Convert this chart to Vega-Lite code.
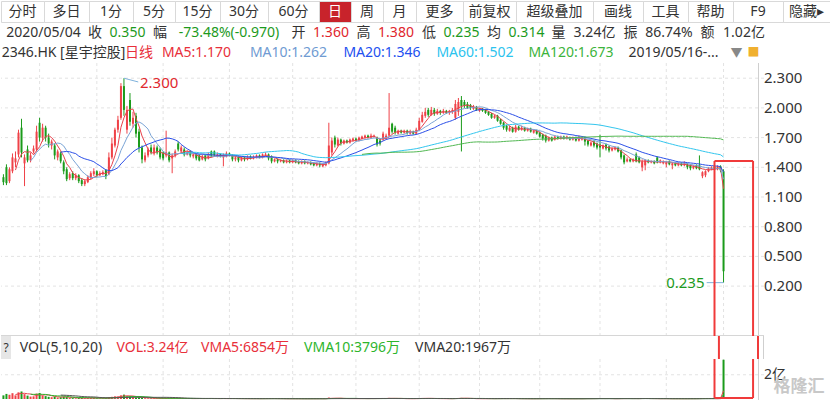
{
"$schema":"https://vega.github.io/schema/vega-lite/v6.json",
"padding":0,"background":"white","spacing":0,
"config":{"font":"Noto Sans, Noto Sans CJK SC","view":{"stroke":null},"concat":{"spacing":0},"text":{"fontSize":14,"color":"#333333"}},
"datasets":{
"months":[{"i":12},{"i":31},{"i":53},{"i":75},{"i":96},{"i":117},{"i":138},{"i":158},{"i":178},{"i":198},{"i":220},{"i":239}],
"yt":[{"p":0.2},{"p":0.5},{"p":0.8},{"p":1.1},{"p":1.4},{"p":1.7},{"p":2.0},{"p":2.3}],
"vt":[{"v":2}],
"one":[{"n":1}],
"boxTop":[{"i":236.0,"i2":236.0,"p":1.464,"p2":-0.304},{"i":248.8,"i2":248.8,"p":1.464,"p2":-0.304},{"i":236.0,"i2":248.8,"p":1.464,"p2":1.464}],
"boxMid":[{"i":236.0},{"i":248.8}],
"boxBottom":[{"i":236.0,"i2":236.0,"v":3.3,"v2":0.082},{"i":248.8,"i2":248.8,"v":3.3,"v2":0.082},{"i":236.0,"i2":248.8,"v":0.082,"v2":0.082}],
"k":[
{"i":0,"o":1.30,"h":1.33,"l":1.22,"c":1.25,"v":0.30},
{"i":1,"o":1.40,"h":1.43,"l":1.22,"c":1.24,"v":0.42},
{"i":2,"o":1.26,"h":1.40,"l":1.24,"c":1.38,"v":0.35},
{"i":3,"o":1.36,"h":1.54,"l":1.34,"c":1.50,"v":0.48},
{"i":4,"o":1.45,"h":1.56,"l":1.40,"c":1.49,"v":0.30},
{"i":5,"o":1.53,"h":1.78,"l":1.50,"c":1.75,"v":0.55},
{"i":6,"o":1.80,"h":1.89,"l":1.50,"c":1.55,"v":0.62},
{"i":7,"o":1.44,"h":1.53,"l":1.21,"c":1.50,"v":0.40},
{"i":8,"o":1.58,"h":1.62,"l":1.45,"c":1.47,"v":0.28},
{"i":9,"o":1.47,"h":1.55,"l":1.45,"c":1.52,"v":0.20},
{"i":10,"o":1.56,"h":1.62,"l":1.54,"c":1.59,"v":0.22},
{"i":11,"o":1.58,"h":1.82,"l":1.56,"c":1.76,"v":0.45},
{"i":12,"o":1.85,"h":1.90,"l":1.66,"c":1.70,"v":0.50},
{"i":13,"o":1.70,"h":1.84,"l":1.66,"c":1.80,"v":0.30},
{"i":14,"o":1.80,"h":1.82,"l":1.66,"c":1.70,"v":0.24},
{"i":15,"o":1.70,"h":1.74,"l":1.60,"c":1.64,"v":0.18},
{"i":16,"o":1.62,"h":1.68,"l":1.58,"c":1.66,"v":0.15},
{"i":17,"o":1.62,"h":1.64,"l":1.48,"c":1.52,"v":0.20},
{"i":18,"o":1.50,"h":1.58,"l":1.47,"c":1.56,"v":0.12},
{"i":19,"o":1.54,"h":1.56,"l":1.44,"c":1.46,"v":0.15},
{"i":20,"o":1.45,"h":1.47,"l":1.33,"c":1.36,"v":0.20},
{"i":21,"o":1.38,"h":1.40,"l":1.26,"c":1.28,"v":0.16},
{"i":22,"o":1.29,"h":1.35,"l":1.27,"c":1.33,"v":0.08},
{"i":23,"o":1.34,"h":1.36,"l":1.27,"c":1.29,"v":0.07},
{"i":24,"o":1.29,"h":1.34,"l":1.27,"c":1.32,"v":0.06},
{"i":25,"o":1.32,"h":1.33,"l":1.24,"c":1.26,"v":0.09},
{"i":26,"o":1.27,"h":1.29,"l":1.21,"c":1.23,"v":0.10},
{"i":27,"o":1.23,"h":1.28,"l":1.21,"c":1.26,"v":0.07},
{"i":28,"o":1.25,"h":1.32,"l":1.24,"c":1.30,"v":0.08},
{"i":29,"o":1.29,"h":1.36,"l":1.28,"c":1.34,"v":0.09},
{"i":30,"o":1.33,"h":1.39,"l":1.31,"c":1.36,"v":0.10},
{"i":31,"o":1.36,"h":1.37,"l":1.30,"c":1.32,"v":0.06},
{"i":32,"o":1.32,"h":1.36,"l":1.31,"c":1.34,"v":0.05},
{"i":33,"o":1.33,"h":1.37,"l":1.32,"c":1.35,"v":0.05},
{"i":34,"o":1.37,"h":1.38,"l":1.28,"c":1.31,"v":0.06},
{"i":35,"o":1.33,"h":1.55,"l":1.32,"c":1.50,"v":0.14},
{"i":36,"o":1.50,"h":1.70,"l":1.48,"c":1.64,"v":0.18},
{"i":37,"o":1.62,"h":1.80,"l":1.60,"c":1.78,"v":0.22},
{"i":38,"o":1.78,"h":1.92,"l":1.75,"c":1.88,"v":0.20},
{"i":39,"o":1.90,"h":2.25,"l":1.88,"c":2.22,"v":0.30},
{"i":40,"o":2.22,"h":2.30,"l":1.92,"c":1.98,"v":0.36},
{"i":41,"o":1.78,"h":2.02,"l":1.74,"c":1.98,"v":0.22},
{"i":42,"o":2.08,"h":2.15,"l":1.82,"c":1.86,"v":0.20},
{"i":43,"o":1.84,"h":1.96,"l":1.80,"c":1.90,"v":0.14},
{"i":44,"o":1.92,"h":1.95,"l":1.70,"c":1.74,"v":0.12},
{"i":45,"o":1.76,"h":1.79,"l":1.55,"c":1.60,"v":0.13},
{"i":46,"o":1.60,"h":1.62,"l":1.44,"c":1.48,"v":0.10},
{"i":47,"o":1.47,"h":1.55,"l":1.45,"c":1.52,"v":0.06},
{"i":48,"o":1.52,"h":1.60,"l":1.50,"c":1.58,"v":0.05},
{"i":49,"o":1.60,"h":1.63,"l":1.53,"c":1.55,"v":0.05},
{"i":50,"o":1.54,"h":1.63,"l":1.52,"c":1.60,"v":0.06},
{"i":51,"o":1.60,"h":1.62,"l":1.53,"c":1.55,"v":0.04},
{"i":52,"o":1.58,"h":1.60,"l":1.48,"c":1.50,"v":0.05},
{"i":53,"o":1.55,"h":1.56,"l":1.47,"c":1.49,"v":0.04},
{"i":54,"o":1.52,"h":1.77,"l":1.50,"c":1.55,"v":0.08},
{"i":55,"o":1.55,"h":1.56,"l":1.45,"c":1.47,"v":0.05},
{"i":56,"o":1.49,"h":1.54,"l":1.34,"c":1.52,"v":0.07},
{"i":57,"o":1.52,"h":1.58,"l":1.50,"c":1.56,"v":0.04},
{"i":58,"o":1.64,"h":1.66,"l":1.56,"c":1.58,"v":0.05},
{"i":59,"o":1.56,"h":1.62,"l":1.54,"c":1.60,"v":0.04},
{"i":60,"o":1.58,"h":1.60,"l":1.51,"c":1.53,"v":0.04},
{"i":61,"o":1.53,"h":1.57,"l":1.52,"c":1.55,"v":0.03},
{"i":62,"o":1.56,"h":1.57,"l":1.50,"c":1.52,"v":0.04},
{"i":63,"o":1.51,"h":1.55,"l":1.49,"c":1.53,"v":0.03},
{"i":64,"o":1.53,"h":1.54,"l":1.47,"c":1.49,"v":0.04},
{"i":65,"o":1.52,"h":1.53,"l":1.46,"c":1.47,"v":0.05},
{"i":66,"o":1.48,"h":1.53,"l":1.47,"c":1.51,"v":0.03},
{"i":67,"o":1.52,"h":1.53,"l":1.46,"c":1.48,"v":0.04},
{"i":68,"o":1.49,"h":1.55,"l":1.48,"c":1.53,"v":0.04},
{"i":69,"o":1.56,"h":1.57,"l":1.50,"c":1.51,"v":0.05},
{"i":70,"o":1.56,"h":1.57,"l":1.51,"c":1.52,"v":0.03},
{"i":71,"o":1.51,"h":1.55,"l":1.50,"c":1.53,"v":0.03},
{"i":72,"o":1.53,"h":1.54,"l":1.50,"c":1.51,"v":0.03},
{"i":73,"o":1.50,"h":1.54,"l":1.41,"c":1.52,"v":0.05},
{"i":74,"o":1.51,"h":1.56,"l":1.50,"c":1.54,"v":0.04},
{"i":75,"o":1.54,"h":1.55,"l":1.51,"c":1.52,"v":0.03},
{"i":76,"o":1.52,"h":1.53,"l":1.46,"c":1.48,"v":0.04},
{"i":77,"o":1.48,"h":1.52,"l":1.46,"c":1.50,"v":0.03},
{"i":78,"o":1.51,"h":1.52,"l":1.45,"c":1.47,"v":0.03},
{"i":79,"o":1.47,"h":1.51,"l":1.46,"c":1.50,"v":0.03},
{"i":80,"o":1.50,"h":1.51,"l":1.46,"c":1.48,"v":0.02},
{"i":81,"o":1.48,"h":1.52,"l":1.47,"c":1.50,"v":0.03},
{"i":82,"o":1.51,"h":1.52,"l":1.48,"c":1.49,"v":0.02},
{"i":83,"o":1.49,"h":1.52,"l":1.48,"c":1.51,"v":0.03},
{"i":84,"o":1.50,"h":1.53,"l":1.49,"c":1.52,"v":0.03},
{"i":85,"o":1.52,"h":1.53,"l":1.49,"c":1.50,"v":0.02},
{"i":86,"o":1.50,"h":1.54,"l":1.49,"c":1.53,"v":0.04},
{"i":87,"o":1.52,"h":1.55,"l":1.51,"c":1.53,"v":0.03},
{"i":88,"o":1.53,"h":1.54,"l":1.47,"c":1.49,"v":0.04},
{"i":89,"o":1.51,"h":1.52,"l":1.44,"c":1.46,"v":0.04},
{"i":90,"o":1.46,"h":1.49,"l":1.45,"c":1.48,"v":0.03},
{"i":91,"o":1.48,"h":1.49,"l":1.44,"c":1.46,"v":0.02},
{"i":92,"o":1.46,"h":1.48,"l":1.45,"c":1.47,"v":0.02},
{"i":93,"o":1.47,"h":1.48,"l":1.44,"c":1.45,"v":0.03},
{"i":94,"o":1.45,"h":1.48,"l":1.44,"c":1.46,"v":0.02},
{"i":95,"o":1.47,"h":1.48,"l":1.44,"c":1.45,"v":0.02},
{"i":96,"o":1.45,"h":1.48,"l":1.44,"c":1.47,"v":0.03},
{"i":97,"o":1.47,"h":1.48,"l":1.44,"c":1.45,"v":0.02},
{"i":98,"o":1.46,"h":1.47,"l":1.43,"c":1.44,"v":0.03},
{"i":99,"o":1.44,"h":1.47,"l":1.43,"c":1.46,"v":0.02},
{"i":100,"o":1.46,"h":1.47,"l":1.43,"c":1.44,"v":0.02},
{"i":101,"o":1.44,"h":1.46,"l":1.43,"c":1.45,"v":0.02},
{"i":102,"o":1.45,"h":1.46,"l":1.42,"c":1.43,"v":0.03},
{"i":103,"o":1.44,"h":1.45,"l":1.41,"c":1.42,"v":0.03},
{"i":104,"o":1.42,"h":1.45,"l":1.41,"c":1.44,"v":0.02},
{"i":105,"o":1.44,"h":1.45,"l":1.40,"c":1.42,"v":0.03},
{"i":106,"o":1.41,"h":1.44,"l":1.40,"c":1.43,"v":0.02},
{"i":107,"o":1.42,"h":1.46,"l":1.41,"c":1.44,"v":0.03},
{"i":108,"o":1.44,"h":1.85,"l":1.43,"c":1.62,"v":0.12},
{"i":109,"o":1.55,"h":1.70,"l":1.52,"c":1.67,"v":0.08},
{"i":110,"o":1.70,"h":1.72,"l":1.60,"c":1.63,"v":0.06},
{"i":111,"o":1.62,"h":1.70,"l":1.61,"c":1.68,"v":0.04},
{"i":112,"o":1.68,"h":1.69,"l":1.62,"c":1.64,"v":0.04},
{"i":113,"o":1.64,"h":1.68,"l":1.63,"c":1.67,"v":0.03},
{"i":114,"o":1.67,"h":1.68,"l":1.64,"c":1.65,"v":0.03},
{"i":115,"o":1.65,"h":1.69,"l":1.64,"c":1.68,"v":0.03},
{"i":116,"o":1.67,"h":1.70,"l":1.66,"c":1.69,"v":0.04},
{"i":117,"o":1.69,"h":1.70,"l":1.66,"c":1.67,"v":0.03},
{"i":118,"o":1.67,"h":1.71,"l":1.66,"c":1.70,"v":0.03},
{"i":119,"o":1.69,"h":1.72,"l":1.68,"c":1.71,"v":0.04},
{"i":120,"o":1.70,"h":1.73,"l":1.69,"c":1.72,"v":0.03},
{"i":121,"o":1.72,"h":1.73,"l":1.69,"c":1.70,"v":0.03},
{"i":122,"o":1.70,"h":1.74,"l":1.69,"c":1.72,"v":0.04},
{"i":123,"o":1.71,"h":1.73,"l":1.70,"c":1.72,"v":0.03},
{"i":124,"o":1.70,"h":1.71,"l":1.61,"c":1.63,"v":0.05},
{"i":125,"o":1.67,"h":1.69,"l":1.62,"c":1.64,"v":0.04},
{"i":126,"o":1.68,"h":1.76,"l":1.67,"c":1.74,"v":0.05},
{"i":127,"o":1.70,"h":1.74,"l":1.69,"c":1.72,"v":0.03},
{"i":128,"o":1.72,"h":2.15,"l":1.71,"c":1.80,"v":0.09},
{"i":129,"o":1.84,"h":1.85,"l":1.74,"c":1.76,"v":0.06},
{"i":130,"o":1.80,"h":1.82,"l":1.73,"c":1.75,"v":0.04},
{"i":131,"o":1.74,"h":1.78,"l":1.73,"c":1.77,"v":0.03},
{"i":132,"o":1.77,"h":1.78,"l":1.74,"c":1.75,"v":0.03},
{"i":133,"o":1.75,"h":1.78,"l":1.74,"c":1.77,"v":0.03},
{"i":134,"o":1.77,"h":1.78,"l":1.73,"c":1.75,"v":0.02},
{"i":135,"o":1.74,"h":1.78,"l":1.73,"c":1.76,"v":0.03},
{"i":136,"o":1.76,"h":1.77,"l":1.73,"c":1.74,"v":0.03},
{"i":137,"o":1.74,"h":1.80,"l":1.73,"c":1.78,"v":0.04},
{"i":138,"o":1.78,"h":1.90,"l":1.77,"c":1.87,"v":0.06},
{"i":139,"o":1.86,"h":1.96,"l":1.85,"c":1.93,"v":0.07},
{"i":140,"o":1.92,"h":2.00,"l":1.90,"c":1.96,"v":0.05},
{"i":141,"o":1.98,"h":2.00,"l":1.91,"c":1.93,"v":0.04},
{"i":142,"o":1.93,"h":2.01,"l":1.92,"c":1.98,"v":0.04},
{"i":143,"o":1.98,"h":2.00,"l":1.92,"c":1.94,"v":0.03},
{"i":144,"o":1.94,"h":1.99,"l":1.93,"c":1.97,"v":0.03},
{"i":145,"o":1.97,"h":1.98,"l":1.93,"c":1.95,"v":0.03},
{"i":146,"o":1.95,"h":1.99,"l":1.94,"c":1.97,"v":0.03},
{"i":147,"o":1.97,"h":1.98,"l":1.94,"c":1.95,"v":0.02},
{"i":148,"o":1.95,"h":1.98,"l":1.93,"c":1.97,"v":0.03},
{"i":149,"o":1.96,"h":2.00,"l":1.94,"c":1.98,"v":0.03},
{"i":150,"o":1.90,"h":2.08,"l":1.88,"c":2.04,"v":0.07},
{"i":151,"o":1.96,"h":2.10,"l":1.92,"c":2.06,"v":0.08},
{"i":152,"o":2.08,"h":2.12,"l":1.56,"c":2.02,"v":0.09},
{"i":153,"o":2.06,"h":2.08,"l":2.00,"c":2.02,"v":0.04},
{"i":154,"o":2.04,"h":2.06,"l":1.99,"c":2.00,"v":0.03},
{"i":155,"o":2.03,"h":2.04,"l":1.98,"c":2.00,"v":0.03},
{"i":156,"o":1.99,"h":2.03,"l":1.98,"c":2.01,"v":0.03},
{"i":157,"o":2.01,"h":2.02,"l":1.97,"c":1.98,"v":0.02},
{"i":158,"o":1.97,"h":2.00,"l":1.96,"c":1.99,"v":0.03},
{"i":159,"o":1.99,"h":2.00,"l":1.96,"c":1.97,"v":0.02},
{"i":160,"o":1.98,"h":1.99,"l":1.94,"c":1.95,"v":0.03},
{"i":161,"o":1.96,"h":1.97,"l":1.92,"c":1.93,"v":0.03},
{"i":162,"o":1.94,"h":1.95,"l":1.89,"c":1.90,"v":0.04},
{"i":163,"o":1.90,"h":1.93,"l":1.89,"c":1.92,"v":0.02},
{"i":164,"o":1.92,"h":1.93,"l":1.86,"c":1.87,"v":0.03},
{"i":165,"o":1.88,"h":1.89,"l":1.83,"c":1.84,"v":0.04},
{"i":166,"o":1.85,"h":1.86,"l":1.78,"c":1.80,"v":0.04},
{"i":167,"o":1.82,"h":1.83,"l":1.76,"c":1.78,"v":0.03},
{"i":168,"o":1.77,"h":1.82,"l":1.76,"c":1.80,"v":0.03},
{"i":169,"o":1.80,"h":1.81,"l":1.75,"c":1.76,"v":0.03},
{"i":170,"o":1.76,"h":1.83,"l":1.75,"c":1.81,"v":0.04},
{"i":171,"o":1.81,"h":1.82,"l":1.77,"c":1.78,"v":0.02},
{"i":172,"o":1.78,"h":1.82,"l":1.77,"c":1.80,"v":0.02},
{"i":173,"o":1.80,"h":1.81,"l":1.76,"c":1.77,"v":0.02},
{"i":174,"o":1.77,"h":1.80,"l":1.76,"c":1.79,"v":0.02},
{"i":175,"o":1.79,"h":1.80,"l":1.75,"c":1.76,"v":0.03},
{"i":176,"o":1.75,"h":1.78,"l":1.74,"c":1.77,"v":0.02},
{"i":177,"o":1.77,"h":1.78,"l":1.73,"c":1.74,"v":0.03},
{"i":178,"o":1.75,"h":1.76,"l":1.70,"c":1.71,"v":0.03},
{"i":179,"o":1.73,"h":1.74,"l":1.67,"c":1.69,"v":0.04},
{"i":180,"o":1.72,"h":1.73,"l":1.65,"c":1.67,"v":0.04},
{"i":181,"o":1.67,"h":1.71,"l":1.66,"c":1.70,"v":0.03},
{"i":182,"o":1.70,"h":1.71,"l":1.66,"c":1.67,"v":0.02},
{"i":183,"o":1.68,"h":1.72,"l":1.67,"c":1.71,"v":0.03},
{"i":184,"o":1.71,"h":1.72,"l":1.68,"c":1.69,"v":0.02},
{"i":185,"o":1.69,"h":1.72,"l":1.68,"c":1.71,"v":0.02},
{"i":186,"o":1.71,"h":1.72,"l":1.68,"c":1.69,"v":0.02},
{"i":187,"o":1.69,"h":1.72,"l":1.68,"c":1.71,"v":0.03},
{"i":188,"o":1.70,"h":1.71,"l":1.67,"c":1.68,"v":0.02},
{"i":189,"o":1.68,"h":1.71,"l":1.67,"c":1.70,"v":0.02},
{"i":190,"o":1.70,"h":1.71,"l":1.66,"c":1.67,"v":0.03},
{"i":191,"o":1.67,"h":1.72,"l":1.66,"c":1.70,"v":0.03},
{"i":192,"o":1.68,"h":1.71,"l":1.67,"c":1.70,"v":0.02},
{"i":193,"o":1.70,"h":1.71,"l":1.62,"c":1.66,"v":0.04},
{"i":194,"o":1.67,"h":1.68,"l":1.61,"c":1.63,"v":0.04},
{"i":195,"o":1.62,"h":1.66,"l":1.61,"c":1.65,"v":0.03},
{"i":196,"o":1.66,"h":1.67,"l":1.60,"c":1.62,"v":0.03},
{"i":197,"o":1.64,"h":1.65,"l":1.58,"c":1.60,"v":0.04},
{"i":198,"o":1.63,"h":1.73,"l":1.50,"c":1.60,"v":0.06},
{"i":199,"o":1.59,"h":1.63,"l":1.58,"c":1.62,"v":0.03},
{"i":200,"o":1.63,"h":1.64,"l":1.57,"c":1.59,"v":0.03},
{"i":201,"o":1.61,"h":1.62,"l":1.55,"c":1.57,"v":0.04},
{"i":202,"o":1.57,"h":1.60,"l":1.56,"c":1.59,"v":0.02},
{"i":203,"o":1.58,"h":1.61,"l":1.57,"c":1.60,"v":0.02},
{"i":204,"o":1.60,"h":1.61,"l":1.55,"c":1.56,"v":0.03},
{"i":205,"o":1.57,"h":1.58,"l":1.48,"c":1.50,"v":0.05},
{"i":206,"o":1.52,"h":1.53,"l":1.43,"c":1.45,"v":0.05},
{"i":207,"o":1.46,"h":1.50,"l":1.45,"c":1.48,"v":0.03},
{"i":208,"o":1.48,"h":1.49,"l":1.45,"c":1.46,"v":0.03},
{"i":209,"o":1.46,"h":1.49,"l":1.45,"c":1.48,"v":0.02},
{"i":210,"o":1.53,"h":1.55,"l":1.45,"c":1.46,"v":0.04},
{"i":211,"o":1.50,"h":1.51,"l":1.44,"c":1.45,"v":0.04},
{"i":212,"o":1.40,"h":1.48,"l":1.36,"c":1.46,"v":0.06},
{"i":213,"o":1.42,"h":1.48,"l":1.37,"c":1.47,"v":0.04},
{"i":214,"o":1.47,"h":1.48,"l":1.44,"c":1.45,"v":0.02},
{"i":215,"o":1.45,"h":1.47,"l":1.44,"c":1.46,"v":0.02},
{"i":216,"o":1.46,"h":1.47,"l":1.43,"c":1.44,"v":0.03},
{"i":217,"o":1.50,"h":1.51,"l":1.44,"c":1.45,"v":0.04},
{"i":218,"o":1.45,"h":1.48,"l":1.44,"c":1.47,"v":0.02},
{"i":219,"o":1.44,"h":1.47,"l":1.43,"c":1.46,"v":0.02},
{"i":220,"o":1.43,"h":1.46,"l":1.40,"c":1.45,"v":0.03},
{"i":221,"o":1.46,"h":1.47,"l":1.42,"c":1.43,"v":0.02},
{"i":222,"o":1.42,"h":1.45,"l":1.38,"c":1.44,"v":0.03},
{"i":223,"o":1.44,"h":1.45,"l":1.41,"c":1.42,"v":0.02},
{"i":224,"o":1.42,"h":1.45,"l":1.41,"c":1.44,"v":0.02},
{"i":225,"o":1.44,"h":1.45,"l":1.41,"c":1.42,"v":0.02},
{"i":226,"o":1.42,"h":1.46,"l":1.41,"c":1.44,"v":0.03},
{"i":227,"o":1.43,"h":1.44,"l":1.38,"c":1.40,"v":0.03},
{"i":228,"o":1.42,"h":1.43,"l":1.37,"c":1.39,"v":0.03},
{"i":229,"o":1.39,"h":1.42,"l":1.38,"c":1.41,"v":0.02},
{"i":230,"o":1.42,"h":1.43,"l":1.38,"c":1.39,"v":0.03},
{"i":231,"o":1.42,"h":1.52,"l":1.37,"c":1.38,"v":0.05},
{"i":232,"o":1.31,"h":1.36,"l":1.29,"c":1.35,"v":0.06},
{"i":233,"o":1.32,"h":1.37,"l":1.30,"c":1.36,"v":0.04},
{"i":234,"o":1.36,"h":1.40,"l":1.35,"c":1.39,"v":0.03},
{"i":235,"o":1.38,"h":1.41,"l":1.37,"c":1.40,"v":0.03},
{"i":236,"o":1.41,"h":1.43,"l":1.38,"c":1.39,"v":0.04},
{"i":237,"o":1.38,"h":1.42,"l":1.37,"c":1.41,"v":0.04},
{"i":238,"o":1.41,"h":1.42,"l":1.35,"c":1.37,"v":0.06},
{"i":239,"o":1.36,"h":1.38,"l":0.235,"c":0.35,"v":3.24}
]},
"vconcat":[
{"data":{"name":"one"},"spacing":0,"bounds":"flush","hconcat":[
{"width":43,"height":21,"view":{"stroke":"#d9d9d9"},"mark":"text","encoding":{"text":{"value":"分时"}}},
{"width":45,"height":21,"view":{"stroke":"#d9d9d9"},"mark":"text","encoding":{"text":{"value":"多日"}}},
{"width":44,"height":21,"view":{"stroke":"#d9d9d9"},"mark":"text","encoding":{"text":{"value":"1分"}}},
{"width":42,"height":21,"view":{"stroke":"#d9d9d9"},"mark":"text","encoding":{"text":{"value":"5分"}}},
{"width":45,"height":21,"view":{"stroke":"#d9d9d9"},"mark":"text","encoding":{"text":{"value":"15分"}}},
{"width":48,"height":21,"view":{"stroke":"#d9d9d9"},"mark":"text","encoding":{"text":{"value":"30分"}}},
{"width":51,"height":21,"view":{"stroke":"#d9d9d9"},"mark":"text","encoding":{"text":{"value":"60分"}}},
{"width":32,"height":21,"view":{"stroke":"#d9d9d9","fill":"#c8232b"},"mark":{"type":"text","color":"#ffffff"},"encoding":{"text":{"value":"日"}}},
{"width":32,"height":21,"view":{"stroke":"#d9d9d9"},"mark":"text","encoding":{"text":{"value":"周"}}},
{"width":33,"height":21,"view":{"stroke":"#d9d9d9"},"mark":"text","encoding":{"text":{"value":"月"}}},
{"width":47,"height":21,"view":{"stroke":"#d9d9d9"},"mark":"text","encoding":{"text":{"value":"更多"}}},
{"width":53,"height":21,"view":{"stroke":"#d9d9d9"},"mark":"text","encoding":{"text":{"value":"前复权"}}},
{"width":77,"height":21,"view":{"stroke":"#d9d9d9"},"mark":"text","encoding":{"text":{"value":"超级叠加"}}},
{"width":50,"height":21,"view":{"stroke":"#d9d9d9"},"mark":"text","encoding":{"text":{"value":"画线"}}},
{"width":45,"height":21,"view":{"stroke":"#d9d9d9"},"mark":"text","encoding":{"text":{"value":"工具"}}},
{"width":45,"height":21,"view":{"stroke":"#d9d9d9"},"mark":"text","encoding":{"text":{"value":"帮助"}}},
{"width":50,"height":21,"view":{"stroke":"#d9d9d9"},"mark":"text","encoding":{"text":{"value":"F9"}}},
{"width":47,"height":21,"view":{"stroke":"#d9d9d9"},"mark":"text","encoding":{"text":{"value":"隐藏▸"}}}
]},
{"data":{"name":"one"},"spacing":0,"bounds":"flush","hconcat":[
{"width":85,"height":20,"mark":"text","encoding":{"text":{"value":"2020/05/04"}}},
{"width":18,"height":20,"mark":"text","encoding":{"text":{"value":"收"}}},
{"width":47,"height":20,"mark":{"type":"text","color":"#1d9a1d"},"encoding":{"text":{"value":"0.350"}}},
{"width":18,"height":20,"mark":"text","encoding":{"text":{"value":"幅"}}},
{"width":120,"height":20,"mark":{"type":"text","color":"#1d9a1d"},"encoding":{"text":{"value":"-73.48%(-0.970)"}}},
{"width":19,"height":20,"mark":"text","encoding":{"text":{"value":"开"}}},
{"width":46,"height":20,"mark":{"type":"text","color":"#e0262d"},"encoding":{"text":{"value":"1.360"}}},
{"width":19,"height":20,"mark":"text","encoding":{"text":{"value":"高"}}},
{"width":46,"height":20,"mark":{"type":"text","color":"#e0262d"},"encoding":{"text":{"value":"1.380"}}},
{"width":20,"height":20,"mark":"text","encoding":{"text":{"value":"低"}}},
{"width":45,"height":20,"mark":{"type":"text","color":"#1d9a1d"},"encoding":{"text":{"value":"0.235"}}},
{"width":20,"height":20,"mark":"text","encoding":{"text":{"value":"均"}}},
{"width":45,"height":20,"mark":{"type":"text","color":"#1d9a1d"},"encoding":{"text":{"value":"0.314"}}},
{"width":19,"height":20,"mark":"text","encoding":{"text":{"value":"量"}}},
{"width":53,"height":20,"mark":"text","encoding":{"text":{"value":"3.24亿"}}},
{"width":19,"height":20,"mark":"text","encoding":{"text":{"value":"振"}}},
{"width":58,"height":20,"mark":"text","encoding":{"text":{"value":"86.74%"}}},
{"width":19,"height":20,"mark":"text","encoding":{"text":{"value":"额"}}},
{"width":54,"height":20,"mark":"text","encoding":{"text":{"value":"1.02亿"}}},
{"width":60,"height":20,"mark":"text","encoding":{"text":{"value":""}}}
]},
{"data":{"name":"one"},"spacing":0,"bounds":"flush","hconcat":[
{"width":125,"height":20,"mark":"text","encoding":{"text":{"value":"2346.HK [星宇控股]"}}},
{"width":26,"height":20,"mark":{"type":"text","color":"#e8303a"},"encoding":{"text":{"value":"日线"}}},
{"width":89,"height":20,"mark":{"type":"text","color":"#e8303a"},"encoding":{"text":{"value":"MA5:1.170"}}},
{"width":95,"height":20,"mark":{"type":"text","color":"#6f9bd2"},"encoding":{"text":{"value":"MA10:1.262"}}},
{"width":92,"height":20,"mark":{"type":"text","color":"#2250f0"},"encoding":{"text":{"value":"MA20:1.346"}}},
{"width":94,"height":20,"mark":{"type":"text","color":"#2cc3ee"},"encoding":{"text":{"value":"MA60:1.502"}}},
{"width":98,"height":20,"mark":{"type":"text","color":"#3cb43c"},"encoding":{"text":{"value":"MA120:1.673"}}},
{"width":107,"height":20,"mark":"text","encoding":{"text":{"value":"2019/05/16-..."}}},
{"width":19,"height":20,"mark":{"type":"text","color":"#888888","fontSize":12},"encoding":{"text":{"value":"▼"}}},
{"width":15,"height":20,"mark":{"type":"text","color":"#f0b030","fontSize":12},"encoding":{"text":{"value":"■"}}},
{"width":70,"height":20,"mark":"text","encoding":{"text":{"value":""}}}
]},
{"width":763,"height":273,"data":{"name":"k"},
"layer":[
{"data":{"name":"months"},"mark":{"type":"rule","color":"#e3e3e3","strokeDash":[3,3],"clip":true},"encoding":{"x":{"field":"i","type":"quantitative","scale":{"domain":[0.852,250.77],"nice":false,"zero":false},"axis":null}}},
{"data":{"name":"yt"},"mark":{"type":"rule","color":"#e3e3e3","strokeDash":[3,3],"clip":true},"encoding":{"y":{"field":"p","type":"quantitative","scale":{"domain":[-0.304,2.4535],"nice":false,"zero":false},"axis":null}}},
{"data":{"name":"one"},"mark":{"type":"rule","color":"#cfcfcf","clip":true},"encoding":{"x":{"datum":250.6,"type":"quantitative","scale":{"domain":[0.852,250.77],"nice":false,"zero":false},"axis":null}}},
{"data":{"name":"one"},"mark":{"type":"rule","color":"#d6d6d6","clip":true},"encoding":{"y":{"datum":-0.299,"type":"quantitative","scale":{"domain":[-0.304,2.4535],"nice":false,"zero":false},"axis":null}}},
{"data":{"name":"yt"},"mark":{"type":"text","align":"left","baseline":"middle","dx":5,"fontSize":15,"color":"#333333"},"encoding":{"x":{"datum":250.77,"type":"quantitative","scale":{"domain":[0.852,250.77],"nice":false,"zero":false},"axis":null},"y":{"field":"p","type":"quantitative","scale":{"domain":[-0.304,2.4535],"nice":false,"zero":false},"axis":null},"text":{"field":"p","type":"quantitative","format":".3f"}}},
{"mark":{"type":"rule","clip":true},"encoding":{"x":{"field":"i","type":"quantitative","scale":{"domain":[0.852,250.77],"nice":false,"zero":false},"axis":null},"y":{"field":"l","type":"quantitative","scale":{"domain":[-0.304,2.4535],"nice":false,"zero":false},"axis":null},"y2":{"field":"h"},"color":{"condition":{"test":"datum.c >= datum.o","value":"#ef4248"},"value":"#1b9b1b"}}},
{"mark":{"type":"bar","size":2,"clip":true},"encoding":{"x":{"field":"i","type":"quantitative","scale":{"domain":[0.852,250.77],"nice":false,"zero":false},"axis":null},"y":{"field":"o","type":"quantitative","scale":{"domain":[-0.304,2.4535],"nice":false,"zero":false},"axis":null},"y2":{"field":"c"},"color":{"condition":{"test":"datum.c >= datum.o","value":"#ef4248"},"value":"#1b9b1b"}}},
{"transform":[{"window":[{"op":"mean","field":"c","as":"m"},{"op":"count","as":"n"}],"frame":[-4,0],"sort":[{"field":"i"}]},{"filter":"datum.n >= 5"}],"mark":{"type":"line","color":"#e8424c","strokeWidth":1,"clip":true},"encoding":{"x":{"field":"i","type":"quantitative","scale":{"domain":[0.852,250.77],"nice":false,"zero":false},"axis":null},"y":{"field":"m","type":"quantitative","scale":{"domain":[-0.304,2.4535],"nice":false,"zero":false},"axis":null}}},
{"transform":[{"window":[{"op":"mean","field":"c","as":"m"},{"op":"count","as":"n"}],"frame":[-9,0],"sort":[{"field":"i"}]},{"filter":"datum.n >= 10"}],"mark":{"type":"line","color":"#7aa4d6","strokeWidth":1,"clip":true},"encoding":{"x":{"field":"i","type":"quantitative","scale":{"domain":[0.852,250.77],"nice":false,"zero":false},"axis":null},"y":{"field":"m","type":"quantitative","scale":{"domain":[-0.304,2.4535],"nice":false,"zero":false},"axis":null}}},
{"transform":[{"window":[{"op":"mean","field":"c","as":"m"},{"op":"count","as":"n"}],"frame":[-19,0],"sort":[{"field":"i"}]},{"filter":"datum.n >= 20"}],"mark":{"type":"line","color":"#2b4fe8","strokeWidth":1,"clip":true},"encoding":{"x":{"field":"i","type":"quantitative","scale":{"domain":[0.852,250.77],"nice":false,"zero":false},"axis":null},"y":{"field":"m","type":"quantitative","scale":{"domain":[-0.304,2.4535],"nice":false,"zero":false},"axis":null}}},
{"transform":[{"window":[{"op":"mean","field":"c","as":"m"},{"op":"count","as":"n"}],"frame":[-59,0],"sort":[{"field":"i"}]},{"filter":"datum.n >= 60"}],"mark":{"type":"line","color":"#33c6ee","strokeWidth":1,"clip":true},"encoding":{"x":{"field":"i","type":"quantitative","scale":{"domain":[0.852,250.77],"nice":false,"zero":false},"axis":null},"y":{"field":"m","type":"quantitative","scale":{"domain":[-0.304,2.4535],"nice":false,"zero":false},"axis":null}}},
{"transform":[{"window":[{"op":"mean","field":"c","as":"m"},{"op":"count","as":"n"}],"frame":[-119,0],"sort":[{"field":"i"}]},{"filter":"datum.n >= 120"}],"mark":{"type":"line","color":"#52b852","strokeWidth":1,"clip":true},"encoding":{"x":{"field":"i","type":"quantitative","scale":{"domain":[0.852,250.77],"nice":false,"zero":false},"axis":null},"y":{"field":"m","type":"quantitative","scale":{"domain":[-0.304,2.4535],"nice":false,"zero":false},"axis":null}}},
{"transform":[{"filter":"datum.i == 40"}],"mark":{"type":"rule","color":"#7fb2dc","strokeWidth":1},"encoding":{"x":{"field":"i","type":"quantitative","scale":{"domain":[0.852,250.77],"nice":false,"zero":false},"axis":null},"y":{"field":"h","type":"quantitative","scale":{"domain":[-0.304,2.4535],"nice":false,"zero":false},"axis":null},"x2":{"datum":44.74},"y2":{"datum":2.262}}},
{"transform":[{"filter":"datum.i == 40"}],"mark":{"type":"text","align":"left","baseline":"middle","dx":16,"dy":5,"color":"#e0282e","fontSize":15},"encoding":{"x":{"field":"i","type":"quantitative","scale":{"domain":[0.852,250.77],"nice":false,"zero":false},"axis":null},"y":{"field":"h","type":"quantitative","scale":{"domain":[-0.304,2.4535],"nice":false,"zero":false},"axis":null},"text":{"field":"h","type":"quantitative","format":".3f"}}},
{"transform":[{"filter":"datum.i == 239"}],"mark":{"type":"rule","color":"#7fb2dc","strokeWidth":1},"encoding":{"x":{"field":"i","type":"quantitative","scale":{"domain":[0.852,250.77],"nice":false,"zero":false},"axis":null},"y":{"field":"l","type":"quantitative","scale":{"domain":[-0.304,2.4535],"nice":false,"zero":false},"axis":null},"x2":{"datum":233.4}}},
{"transform":[{"filter":"datum.i == 239"}],"mark":{"type":"text","align":"right","baseline":"middle","dx":-19,"color":"#1d9a1d","fontSize":15},"encoding":{"x":{"field":"i","type":"quantitative","scale":{"domain":[0.852,250.77],"nice":false,"zero":false},"axis":null},"y":{"field":"l","type":"quantitative","scale":{"domain":[-0.304,2.4535],"nice":false,"zero":false},"axis":null},"text":{"field":"l","type":"quantitative","format":".3f"}}},
{"data":{"name":"boxTop"},"mark":{"type":"rule","color":"#f03a3a","strokeWidth":2,"clip":true},"encoding":{"x":{"field":"i","type":"quantitative","scale":{"domain":[0.852,250.77],"nice":false,"zero":false},"axis":null},"x2":{"field":"i2"},"y":{"field":"p","type":"quantitative","scale":{"domain":[-0.304,2.4535],"nice":false,"zero":false},"axis":null},"y2":{"field":"p2"}}}
]},
{"data":{"name":"one"},"spacing":0,"bounds":"flush","hconcat":[
{"width":10,"height":23,"view":{"fill":"#e6e6e6"},"mark":{"type":"text","fontSize":12},"encoding":{"text":{"value":"?"}}},
{"width":100,"height":23,"mark":"text","encoding":{"text":{"value":"VOL(5,10,20)"}}},
{"width":83,"height":23,"mark":{"type":"text","color":"#e8303a"},"encoding":{"text":{"value":"VOL:3.24亿"}}},
{"width":102,"height":23,"mark":{"type":"text","color":"#e8303a"},"encoding":{"text":{"value":"VMA5:6854万"}}},
{"width":112,"height":23,"mark":{"type":"text","color":"#2db52d"},"encoding":{"text":{"value":"VMA10:3796万"}}},
{"width":110,"height":23,"mark":"text","encoding":{"text":{"value":"VMA20:1967万"}}},
{"width":313,"height":23,"layer":[
{"data":{"name":"one"},"mark":{"type":"rule","color":"#cfcfcf","clip":true},"encoding":{"x":{"datum":250.6,"type":"quantitative","scale":{"domain":[170.19,272.71],"nice":false,"zero":false},"axis":null}}},
{"data":{"name":"boxMid"},"mark":{"type":"rule","color":"#f03a3a","strokeWidth":2,"clip":true},"encoding":{"x":{"field":"i","type":"quantitative","scale":{"domain":[170.19,272.71],"nice":false,"zero":false},"axis":null}}}
]}
]},
{"width":763,"height":42,"data":{"name":"k"},
"layer":[
{"data":{"name":"months"},"mark":{"type":"rule","color":"#e3e3e3","strokeDash":[3,3],"clip":true},"encoding":{"x":{"field":"i","type":"quantitative","scale":{"domain":[0.852,250.77],"nice":false,"zero":false},"axis":null}}},
{"data":{"name":"vt"},"mark":{"type":"rule","color":"#e3e3e3","strokeDash":[3,3],"clip":true},"encoding":{"y":{"field":"v","type":"quantitative","scale":{"domain":[-0.165,3.3],"nice":false,"zero":false},"axis":null}}},
{"data":{"name":"one"},"mark":{"type":"rule","color":"#cfcfcf","clip":true},"encoding":{"x":{"datum":250.6,"type":"quantitative","scale":{"domain":[0.852,250.77],"nice":false,"zero":false},"axis":null}}},
{"data":{"name":"vt"},"mark":{"type":"text","align":"left","baseline":"middle","dx":5,"fontSize":14,"color":"#333333"},"encoding":{"x":{"datum":250.77,"type":"quantitative","scale":{"domain":[0.852,250.77],"nice":false,"zero":false},"axis":null},"y":{"field":"v","type":"quantitative","scale":{"domain":[-0.165,3.3],"nice":false,"zero":false},"axis":null},"text":{"value":"2亿"}}},
{"mark":{"type":"bar","size":2,"clip":true},"encoding":{"x":{"field":"i","type":"quantitative","scale":{"domain":[0.852,250.77],"nice":false,"zero":false},"axis":null},"y":{"field":"v","type":"quantitative","scale":{"domain":[-0.165,3.3],"nice":false,"zero":false},"axis":null},"y2":{"datum":0},"color":{"condition":{"test":"datum.c >= datum.o","value":"#ef4248"},"value":"#1b9b1b"}}},
{"transform":[{"window":[{"op":"mean","field":"v","as":"m"},{"op":"count","as":"n"}],"frame":[-4,0],"sort":[{"field":"i"}]},{"filter":"datum.n >= 5"}],"mark":{"type":"line","color":"#e8424c","strokeWidth":1,"clip":true},"encoding":{"x":{"field":"i","type":"quantitative","scale":{"domain":[0.852,250.77],"nice":false,"zero":false},"axis":null},"y":{"field":"m","type":"quantitative","scale":{"domain":[-0.165,3.3],"nice":false,"zero":false},"axis":null}}},
{"transform":[{"window":[{"op":"mean","field":"v","as":"m"},{"op":"count","as":"n"}],"frame":[-9,0],"sort":[{"field":"i"}]},{"filter":"datum.n >= 10"}],"mark":{"type":"line","color":"#2db52d","strokeWidth":1,"clip":true},"encoding":{"x":{"field":"i","type":"quantitative","scale":{"domain":[0.852,250.77],"nice":false,"zero":false},"axis":null},"y":{"field":"m","type":"quantitative","scale":{"domain":[-0.165,3.3],"nice":false,"zero":false},"axis":null}}},
{"transform":[{"window":[{"op":"mean","field":"v","as":"m"},{"op":"count","as":"n"}],"frame":[-19,0],"sort":[{"field":"i"}]},{"filter":"datum.n >= 20"}],"mark":{"type":"line","color":"#555555","strokeWidth":1,"clip":true},"encoding":{"x":{"field":"i","type":"quantitative","scale":{"domain":[0.852,250.77],"nice":false,"zero":false},"axis":null},"y":{"field":"m","type":"quantitative","scale":{"domain":[-0.165,3.3],"nice":false,"zero":false},"axis":null}}},
{"data":{"name":"boxBottom"},"mark":{"type":"rule","color":"#f03a3a","strokeWidth":2,"clip":true},"encoding":{"x":{"field":"i","type":"quantitative","scale":{"domain":[0.852,250.77],"nice":false,"zero":false},"axis":null},"x2":{"field":"i2"},"y":{"field":"v","type":"quantitative","scale":{"domain":[-0.165,3.3],"nice":false,"zero":false},"axis":null},"y2":{"field":"v2"}}},
{"transform":[{"filter":"datum.i == 239"}],"mark":{"type":"text","align":"right","color":"#c8c8c8","fontSize":17,"fontWeight":"bold","dx":101,"dy":27},"encoding":{"x":{"field":"i","type":"quantitative","scale":{"domain":[0.852,250.77],"nice":false,"zero":false},"axis":null},"y":{"field":"v","type":"quantitative","scale":{"domain":[-0.165,3.3],"nice":false,"zero":false},"axis":null},"text":{"value":"格隆汇"}}}
]}
]
}
